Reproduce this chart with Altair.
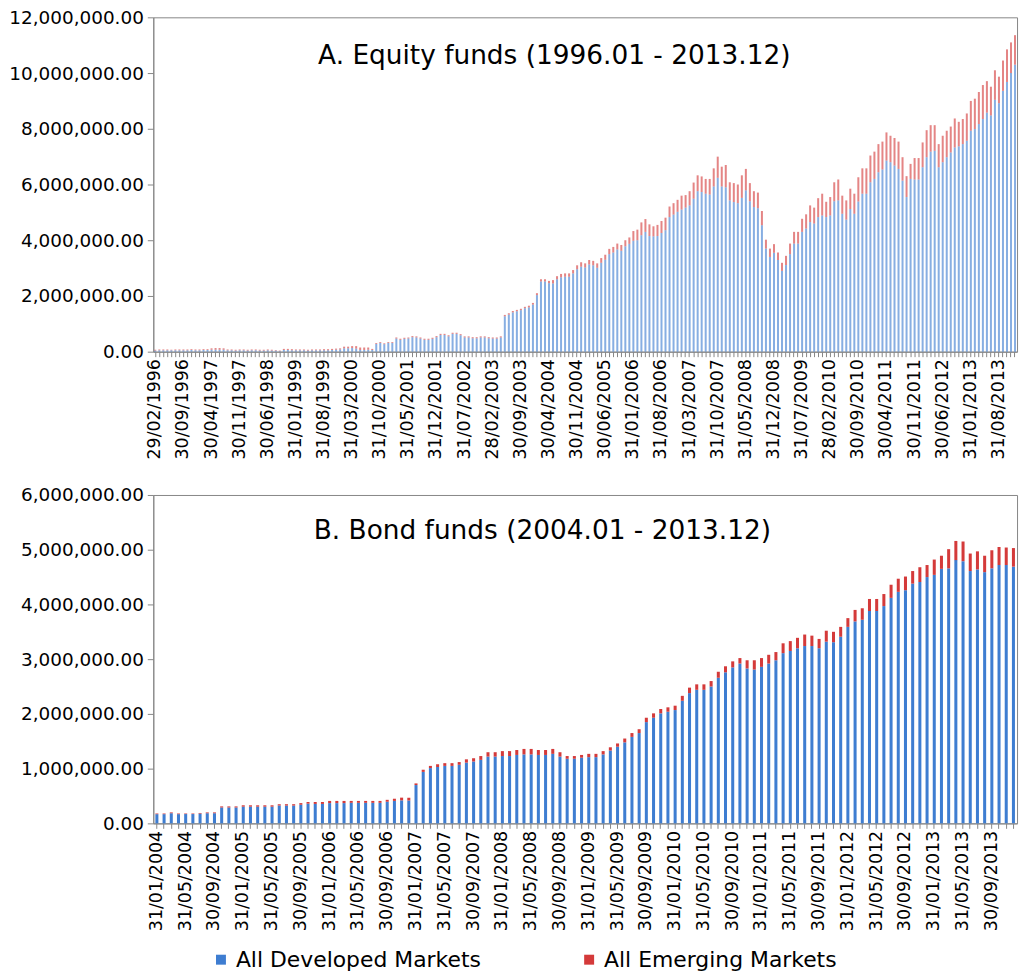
import json
import pandas as pd
import altair as alt

# ---------------- data (values in millions) ----------------
eq_dates = [d.strftime("%d/%m/%Y") for d in
            pd.date_range("1996-02-01", periods=215, freq=pd.offsets.MonthEnd())]
bond_dates = [d.strftime("%d/%m/%Y") for d in
              pd.date_range("2004-01-01", periods=120, freq=pd.offsets.MonthEnd())]

eq_developed = [
    0.04, 0.05, 0.05, 0.05, 0.05, 0.05, 0.05, 0.05, 0.05, 0.06, 0.05, 0.05, 0.06, 0.06,
    0.07, 0.07, 0.07, 0.07,
    0.05, 0.05, 0.04, 0.05, 0.05, 0.04, 0.05, 0.05, 0.04, 0.04, 0.05, 0.04, 0.04, 0.02,
    0.06, 0.06, 0.05,
    0.05, 0.05, 0.05, 0.04, 0.05, 0.05, 0.05, 0.05, 0.05, 0.06, 0.07,
    0.08, 0.12, 0.12, 0.13, 0.11, 0.06, 0.06, 0.07, 0.06,
    0.28, 0.315, 0.27, 0.315, 0.315, 0.47, 0.425, 0.46, 0.47, 0.52, 0.51, 0.47, 0.425, 0.425,
    0.46, 0.52, 0.60, 0.60, 0.55, 0.64, 0.64, 0.59, 0.51, 0.51, 0.48, 0.48, 0.51, 0.51, 0.48,
    0.47, 0.47, 0.51,
    1.27, 1.33, 1.41, 1.45, 1.49, 1.56, 1.59, 1.69, 2.03, 2.52, 2.52, 2.46,
    2.45, 2.60, 2.67, 2.69, 2.69, 2.81, 2.96, 3.05, 3.02, 3.13, 3.10, 3.01, 3.19, 3.30, 3.50,
    3.56, 3.67, 3.62, 3.78, 3.87, 3.98, 4.00, 4.18, 4.30, 4.15, 4.14, 4.15, 4.26, 4.36, 4.83,
    4.92, 5.02, 5.10, 5.17, 5.25, 5.49, 5.76,
    5.73, 5.67, 5.64, 5.93, 6.24, 5.93, 5.90, 5.43, 5.37, 5.33, 5.52, 5.79, 5.40, 5.19, 5.15,
    4.54, 3.70, 3.40, 3.55, 3.29, 2.90, 3.11, 3.50, 3.88, 3.88, 4.30, 4.42, 4.65, 4.60, 4.83,
    4.89, 4.83, 4.89, 5.40, 5.43, 4.95, 4.74, 5.12, 4.95, 5.39, 5.67,
    5.67, 6.08, 6.20, 6.44, 6.54, 6.86, 6.80, 6.68, 6.56, 6.14, 5.55, 6.20, 6.18, 6.18, 6.62,
    6.98, 7.18, 7.21, 6.62, 6.80, 6.98, 7.15, 7.33, 7.37, 7.45, 7.57, 7.93, 7.99, 8.17, 8.35,
    8.58, 8.48, 9.04, 8.92, 9.36, 9.68, 10.00, 10.30,
]
eq_emerging = [
    0.03, 0.03, 0.03, 0.03, 0.02, 0.03, 0.03, 0.03, 0.03, 0.03, 0.03, 0.03, 0.03, 0.03,
    0.05, 0.06, 0.06, 0.05,
    0.03, 0.03, 0.03, 0.03, 0.03, 0.03, 0.03, 0.03, 0.03, 0.03, 0.03, 0.03, 0.02, 0.02,
    0.04, 0.04, 0.04,
    0.03, 0.03, 0.03, 0.03, 0.03, 0.03, 0.03, 0.04, 0.04, 0.04, 0.04,
    0.04, 0.06, 0.06, 0.07, 0.09, 0.09, 0.09, 0.08, 0.04,
    0.03, 0.03, 0.03, 0.03, 0.03, 0.04, 0.04, 0.04, 0.04, 0.04, 0.04, 0.04, 0.04, 0.04,
    0.04, 0.04, 0.04, 0.04, 0.04, 0.04, 0.04, 0.04, 0.04, 0.04, 0.04, 0.04, 0.04, 0.04, 0.04,
    0.04, 0.04, 0.04,
    0.05, 0.05, 0.05, 0.05, 0.05, 0.05, 0.06, 0.06, 0.07, 0.08, 0.08, 0.08,
    0.12, 0.11, 0.12, 0.12, 0.12, 0.12, 0.14, 0.16, 0.15, 0.16, 0.16, 0.16, 0.17, 0.18, 0.19,
    0.20, 0.21, 0.21, 0.22, 0.23, 0.35, 0.38, 0.46, 0.46, 0.42, 0.36, 0.40, 0.43, 0.45, 0.38,
    0.41, 0.43, 0.50, 0.45, 0.51, 0.58, 0.57,
    0.56, 0.53, 0.56, 0.65, 0.76, 0.71, 0.80, 0.65, 0.68, 0.67, 0.81, 0.77, 0.65, 0.57, 0.56,
    0.51, 0.32, 0.30, 0.31, 0.27, 0.29, 0.33, 0.38, 0.42, 0.42, 0.47, 0.51, 0.60, 0.57, 0.68,
    0.78, 0.55, 0.66, 0.68, 0.75, 0.65, 0.69, 0.73, 0.72, 0.87, 0.91,
    0.91, 0.96, 0.98, 1.01, 1.00, 1.01, 0.95, 0.99, 0.98, 0.84, 0.75, 0.54, 0.77, 0.77, 0.89,
    0.97, 0.95, 0.92, 0.83, 0.95, 0.95, 0.93, 1.04, 0.88, 0.90, 0.98, 1.07, 1.09, 1.15, 1.22,
    1.13, 1.03, 1.06, 0.95, 1.09, 1.17, 1.10, 1.06,
]

bond_developed = [
    0.168, 0.168, 0.185, 0.168, 0.17, 0.17, 0.178, 0.185, 0.185,
    0.29, 0.29, 0.29, 0.305, 0.305, 0.305, 0.305, 0.305, 0.325, 0.325, 0.325, 0.34, 0.36,
    0.355, 0.355, 0.37, 0.37, 0.37, 0.375, 0.375, 0.375, 0.375, 0.375, 0.395, 0.41, 0.42, 0.42,
    0.70, 0.94, 1.01, 1.03, 1.05, 1.05, 1.07, 1.11, 1.13, 1.16, 1.22, 1.22, 1.23, 1.23, 1.25,
    1.26, 1.26, 1.25, 1.25, 1.27, 1.22, 1.18, 1.18,
    1.20, 1.21, 1.21, 1.26, 1.33, 1.40, 1.48, 1.58, 1.65, 1.85, 1.93, 2.01, 2.04, 2.07, 2.24,
    2.38, 2.44, 2.44, 2.50, 2.66, 2.76, 2.85, 2.92, 2.83, 2.81, 2.86, 2.92, 2.98, 3.11, 3.15,
    3.20, 3.24, 3.24, 3.20, 3.32, 3.31, 3.41, 3.59, 3.69, 3.72, 3.88, 3.88, 3.97, 4.12, 4.23,
    4.26, 4.38, 4.41, 4.50, 4.54, 4.65, 4.66, 4.81, 4.79, 4.61, 4.64, 4.59, 4.66, 4.72, 4.72,
    4.69,
]
bond_emerging = [
    0.012, 0.012, 0.015, 0.012, 0.01, 0.01, 0.012, 0.015, 0.015,
    0.02, 0.02, 0.02, 0.025, 0.025, 0.025, 0.025, 0.025, 0.025, 0.025, 0.025, 0.03, 0.03,
    0.035, 0.035, 0.04, 0.04, 0.04, 0.035, 0.035, 0.035, 0.035, 0.035, 0.035, 0.04, 0.05, 0.05,
    0.03, 0.04, 0.04, 0.05, 0.05, 0.05, 0.05, 0.06, 0.06, 0.07, 0.08, 0.08, 0.09, 0.09, 0.09,
    0.10, 0.10, 0.09, 0.09, 0.09, 0.08, 0.05, 0.05,
    0.05, 0.06, 0.06, 0.06, 0.06, 0.06, 0.07, 0.07, 0.07, 0.08, 0.08, 0.08, 0.08, 0.08, 0.09,
    0.10, 0.10, 0.10, 0.10, 0.11, 0.11, 0.11, 0.10, 0.15, 0.17, 0.16, 0.16, 0.15, 0.18, 0.18,
    0.19, 0.21, 0.19, 0.17, 0.20, 0.19, 0.18, 0.16, 0.21, 0.21, 0.22, 0.22, 0.22, 0.24, 0.24,
    0.25, 0.23, 0.27, 0.22, 0.28, 0.24, 0.35, 0.35, 0.36, 0.32, 0.33, 0.30, 0.33, 0.33, 0.32,
    0.34,
]

series_names = ["All Developed Markets", "All Emerging Markets"]
series_colors = ["#3E7DD1", "#D43A3A"]
eq_title = "A. Equity funds (1996.01 - 2013.12)"
bond_title = "B. Bond funds (2004.01 - 2013.12)"
eq_y_ticks = [0, 2e6, 4e6, 6e6, 8e6, 10e6, 12e6]
bond_y_ticks = [0, 1e6, 2e6, 3e6, 4e6, 5e6, 6e6]

assert len(eq_developed) == len(eq_emerging) == len(eq_dates) == 215
assert len(bond_developed) == len(bond_emerging) == len(bond_dates) == 120

FONT = "DejaVu Sans"

legend_spec = alt.Legend(
    title=None, orient="none", legendX=57, legendY=936, direction="horizontal",
    symbolType="square", symbolSize=100, symbolStrokeWidth=0, symbolOpacity=1,
    labelFont=FONT, labelFontSize=22, labelColor="#000000", labelLimit=0,
    columnPadding=97, labelOffset=4, padding=0,
)


def long_table(dates, dev, em):
    rows = []
    for d, a, b in zip(dates, dev, em):
        rows.append({"date": d, "market": series_names[0], "value": a * 1e6, "ord": 0})
        rows.append({"date": d, "market": series_names[1], "value": b * 1e6, "ord": 1})
    return pd.DataFrame(rows)


def panel(dates, dev, em, title, every, ticks, width, height, pad_inner, opacity,
          title_x, title_y):
    shown = dates[::every]
    label_expr = "indexof(%s, datum.value) >= 0 ? datum.value : ''" % json.dumps(shown)
    bars = alt.Chart(long_table(dates, dev, em)).mark_bar(opacity=opacity).encode(
        x=alt.X("date:N", sort=dates,
                scale=alt.Scale(paddingInner=pad_inner, paddingOuter=pad_inner / 2),
                axis=alt.Axis(title=None, labelExpr=label_expr, labelAngle=270,
                              labelFontSize=17.5, labelOverlap=False, tickSize=5,
                              labelPadding=2)),
        y=alt.Y("value:Q", stack="zero",
                scale=alt.Scale(domain=[0, ticks[-1]], nice=False),
                axis=alt.Axis(title=None, values=ticks, format=",.2f", labelFontSize=18.5,
                              tickSize=6, labelPadding=4)),
        color=alt.Color("market:N",
                        scale=alt.Scale(domain=series_names, range=series_colors),
                        legend=legend_spec),
        order=alt.Order("ord:Q"),
    )
    txt = alt.Chart(pd.DataFrame({"t": [title]})).mark_text(
        font=FONT, fontSize=26.5, color="#000000", align="center", baseline="alphabetic"
    ).encode(x=alt.value(title_x), y=alt.value(title_y), text="t:N")
    return alt.layer(bars, txt).properties(width=width, height=height)


eq_panel = panel(eq_dates, eq_developed, eq_emerging, eq_title, 7, eq_y_ticks,
                 868, 336, 0.5, 0.62, 403, 47)
bond_panel = panel(bond_dates, bond_developed, bond_emerging, bond_title, 4, bond_y_ticks,
                   868, 330, 0.58, 1.0, 391, 44)

chart = alt.vconcat(eq_panel, bond_panel, spacing=25).resolve_scale(
    color="shared"
).properties(
    padding={"left": 0, "top": -3, "right": 0, "bottom": 0}
).configure_view(
    stroke="#868686", strokeWidth=1
).configure_axis(
    labelFont=FONT, labelColor="#000000", domainColor="#868686", tickColor="#868686",
    grid=False,
)

chart.save("out.html", embed_options={"renderer": "svg", "actions": False})
